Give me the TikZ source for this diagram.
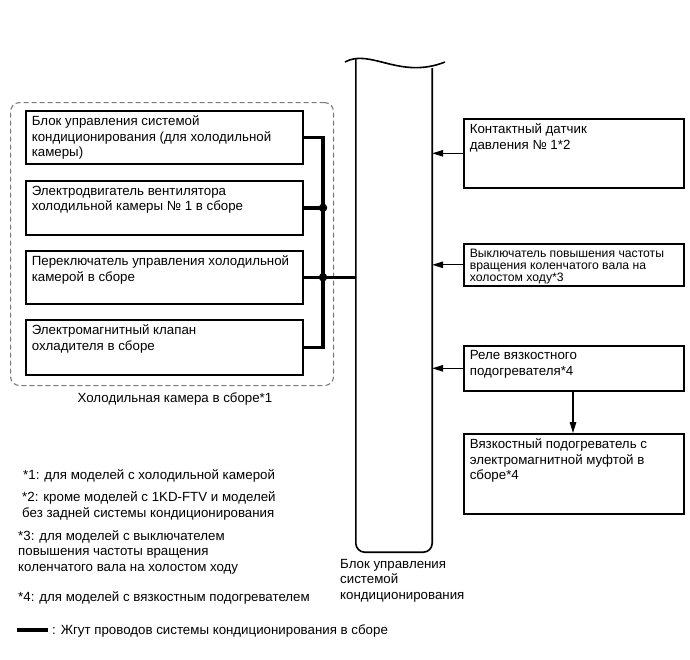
\documentclass[tikz,border=0pt]{standalone}
\usepackage{fontspec}
\setmainfont{Liberation Sans}
\usetikzlibrary{positioning,arrows.meta,calc}
\definecolor{cgray}{HTML}{7A7A7A}
\tikzset{
  blk/.style={draw,line width=1.6pt,anchor=north west,inner xsep=6pt,inner ysep=5pt,align=left,
              font=\fontsize{13.3}{15.5}\selectfont},
  sblk/.style={blk,font=\fontsize{12.2}{12}\selectfont},
  grp/.style={draw=cgray,dashed,dash pattern=on 5pt off 3pt,line width=1.1pt,rounded corners=9pt,
              anchor=north west,inner sep=0pt},
  wire/.style={line width=3.5pt},
  arr/.style={-{Triangle[length=11pt,width=6.5pt]},line width=1.3pt},
  txt/.style={anchor=base west,align=left,inner sep=0pt,font=\fontsize{13.3}{15.5}\selectfont},
  jn/.style={circle,fill,inner sep=0pt,minimum size=8.5pt}
}
\newcommand{\celltxt}[3]{\parbox[t][#2][t]{#1}{#3}}
\begin{document}
\begin{tikzpicture}[x=1pt,y=-1pt]
\useasboundingbox (0,0) rectangle (690,659);

% cold box group
\node[grp,minimum width=323pt,minimum height=283pt] (cam) at (10,102) {};
\node[txt,anchor=base] (caml) at (175,402) {Холодильная камера в сборе*1};

\node[blk] (b1) at (25,110) {\celltxt{265pt}{43pt}{Блок управления системой\\кондиционирования (для холодильной\\камеры)}};
\node[blk] (b2) at (25,180) {\celltxt{265pt}{44pt}{Электродвигатель вентилятора\\холодильной камеры № 1 в сборе}};
\node[blk] (b3) at (25,250) {\celltxt{265pt}{43pt}{Переключатель управления холодильной\\камерой в сборе}};
\node[blk] (b4) at (25,319) {\celltxt{265pt}{45pt}{Электромагнитный клапан\\охладителя в сборе}};

% A/C amplifier bar
\node[minimum width=76pt,minimum height=492pt,inner sep=0pt] (ecu) at (394,306) {};
\draw[line width=1.6pt] (345,62) .. controls (370,48) and (400,80) .. (445,62);
\draw[line width=1.6pt,rounded corners=9pt] (ecu.west |- 0,58) -- (ecu.south west) -- (ecu.south east) -- (ecu.east |- 0,68);
\node[txt] (ecul) at (340,599) {Блок управления\\системой\\кондиционирования};

% harness
\coordinate (bus) at (323,0);
\draw[wire] (b1.east) -- (b1.east -| bus) -- (b4.east -| bus) -- (b4.east);
\draw[wire] (b2.east) -- (b2.east -| bus);
\draw[wire] (b3.east) -- (b3.east -| ecu.west);
\node[jn] (j1) at (b2.east -| bus) {};
\node[jn] (j2) at (b3.east -| bus) {};

% right side
\node[blk] (r1) at (463,118) {\celltxt{208pt}{59pt}{Контактный датчик\\давления № 1*2}};
\node[sblk] (r2) at (463,243) {\celltxt{208pt}{32pt}{Выключатель повышения частоты\\вращения коленчатого вала на\\холостом ходу*3}};
\node[blk] (r3) at (463,345) {\celltxt{208pt}{35pt}{Реле вязкостного\\подогревателя*4}};
\node[blk] (r4) at (463,433) {\celltxt{208pt}{70pt}{Вязкостный подогреватель с\\электромагнитной муфтой в\\сборе*4}};

\draw[arr] (r1.west) -- (r1.west -| ecu.east);
\draw[arr] (r2.west) -- (r2.west -| ecu.east);
\draw[arr] (r3.west) -- (r3.west -| ecu.east);
\draw[arr] (r3.south -| 573,0) -- (r4.north -| 573,0);

% notes
\node[txt] (n1) at (23,479) {*1: для моделей с холодильной камерой};
\node[txt] (n2) at (22,517) {*2: кроме моделей с 1KD-FTV и моделей\\без задней системы кондиционирования};
\node[txt] (n3) at (18,571) {*3: для моделей с выключателем\\повышения частоты вращения\\коленчатого вала на холостом ходу};
\node[txt] (n4) at (18,601) {*4: для моделей с вязкостным подогревателем};
\coordinate (lg1) at (17,630);
\coordinate (lg2) at (48,630);
\draw[wire] (lg1) -- (lg2);
\node[txt] (lgt) at (52,634) {: Жгут проводов системы кондиционирования в сборе};
\end{tikzpicture}
\end{document}
